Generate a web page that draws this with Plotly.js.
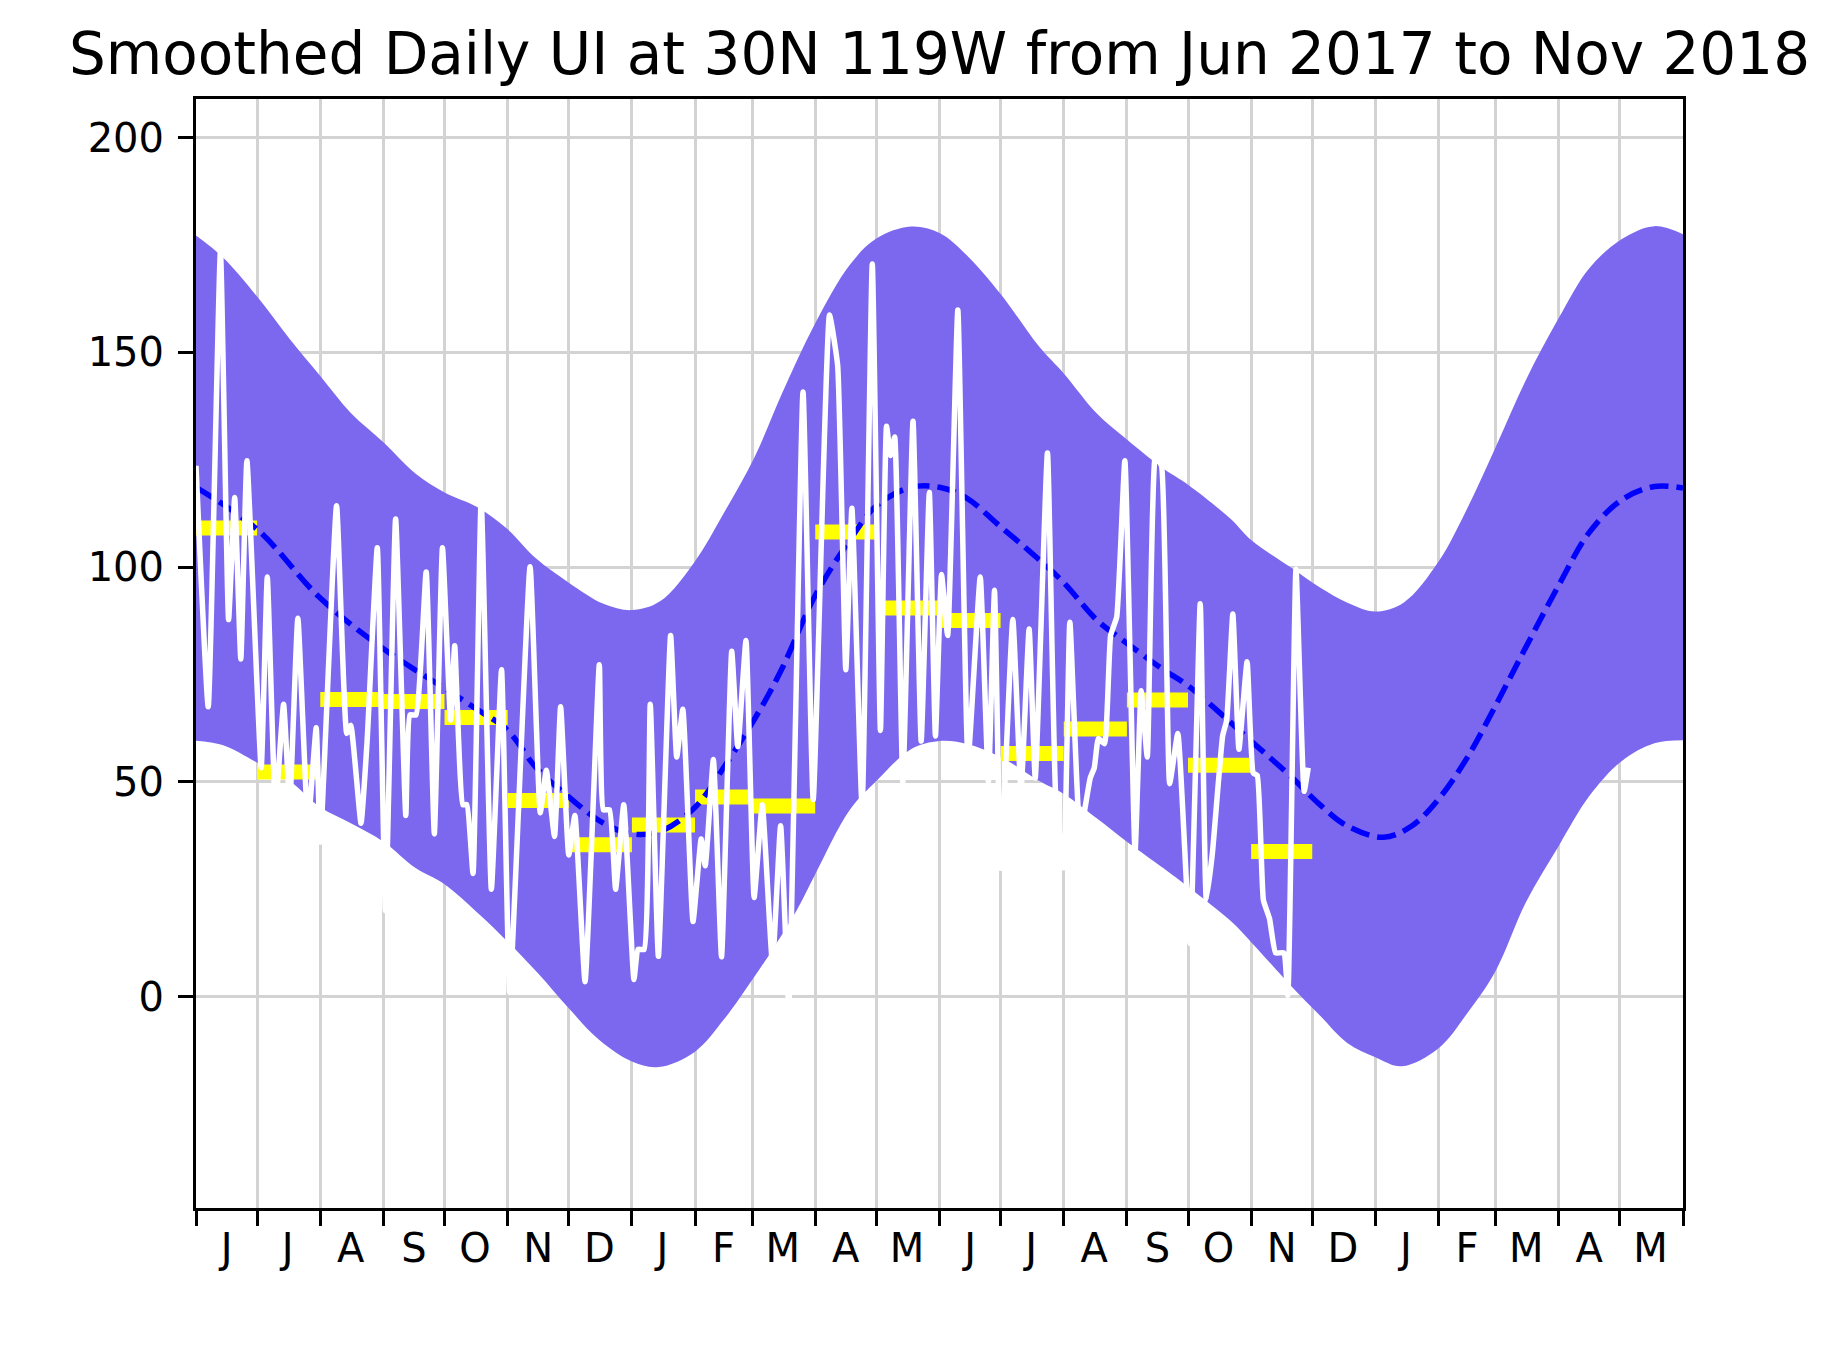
<!DOCTYPE html>
<html>
<head>
<meta charset="utf-8">
<script src="https://cdn.plot.ly/plotly-3.0.1.min.js"></script>
<style>
  html, body { margin: 0; padding: 0; background: #ffffff; }
  #chart { width: 1845px; height: 1357px; }
</style>
</head>
<body>
<div id="chart"></div>
<script>
// day offsets are counted from 1 Jun 2017
const START_UTC = Date.UTC(2017, 5, 1);

const monthStarts = [
    '2017-06-01', '2017-07-01', '2017-08-01', '2017-09-01', '2017-10-01', '2017-11-01',
    '2017-12-01', '2018-01-01', '2018-02-01', '2018-03-01', '2018-04-01', '2018-05-01',
    '2018-06-01', '2018-07-01', '2018-08-01', '2018-09-01', '2018-10-01', '2018-11-01',
    '2018-12-01', '2019-01-01', '2019-02-01', '2019-03-01', '2019-04-01', '2019-05-01',
    '2019-06-01',
];
const monthLetters = [
    'J', 'J', 'A', 'S', 'O', 'N', 'D', 'J', 'F', 'M', 'A', 'M',
    'J', 'J', 'A', 'S', 'O', 'N', 'D', 'J', 'F', 'M', 'A', 'M',
];
const yTicks = [0, 50, 100, 150, 200];

// monthly mean UI, Jun 2017 .. Nov 2018
const monthlyUI = [
    109.1, 52.3, 69.2, 68.7, 65.0, 45.7, 35.4, 40.0, 46.5,
    44.4, 108.2, 90.5, 87.6, 56.6, 62.3, 69.1, 53.9, 33.8,
];

// climatological band
const upperDay = [
    0, 13, 30, 46, 61, 76, 92, 108, 122, 138, 153, 167, 183, 200, 214, 228, 245, 259, 274,
    288, 304, 321, 334, 351, 365, 378, 395, 414, 426, 442, 457, 475, 487, 508, 518, 537,
    552, 565, 579, 593, 610, 624, 638, 653, 669, 684, 700, 716, 730,
];
const upperUI = [
    177.2, 172.2, 163.0, 153.1, 144.5, 135.9, 129.1, 121.7, 117.4, 114.0, 108.8, 102.0, 96.4, 91.5, 90.0, 92.1, 101.4, 112.5, 125.4,
    140.8, 156.8, 170.4, 176.5, 179.3, 177.8, 172.8, 163.6, 151.3, 145.1, 135.9, 129.7, 122.9, 119.2, 111.2, 106.3, 100.1,
    95.2, 91.8, 89.7, 91.8, 101.3, 113.6, 127.9, 143.7, 158.0, 169.6, 176.4, 179.4, 177.5,
];
const lowerDay = [
    0, 13, 30, 46, 61, 76, 92, 108, 122, 139, 153, 168, 183, 198, 214, 227, 245, 259, 273, 281,
    295, 304, 321, 334, 351, 365, 378, 395, 414, 426, 442, 457, 475, 487, 508, 518, 537,
    552, 565, 579, 592, 610, 624, 638, 653, 669, 684, 700, 716, 730,
];
const lowerUI = [
    59.6, 58.6, 54.5, 50.2, 44.1, 40.4, 36.1, 29.9, 26.2, 19.2, 12.8, 5.4, -2.7, -10.1, -15.1, -16.4, -12.8, -5.4, 3.9, 9.5,
    20.2, 28.5, 43.5, 50.2, 57.6, 59.5, 58.9, 55.8, 50.2, 47.2, 41.6, 36.1, 29.9, 25.6, 17.6, 12.7, 2.8,
    -4.5, -10.7, -14.1, -16.2, -12.0, -3.9, 6.0, 22.1, 35.1, 46.7, 54.9, 59.0, 59.7,
];
const meanDay = [
    0, 30, 61, 92, 122, 136, 153, 167, 183, 200, 214, 228, 245, 259, 277, 288, 304, 321, 334,
    351, 365, 378, 395, 409, 426, 442, 457, 475, 487, 508, 518, 537, 552, 565, 583, 597,
    610, 624, 638, 653, 669, 684, 700, 716, 730,
];
const meanUI = [
    118.6, 108.8, 92.8, 81.0, 71.8, 67.5, 62.0, 53.3, 46.5, 40.4, 37.9, 38.5, 44.1, 53.3, 66.9, 76.7, 93.4, 106.3, 114.3,
    118.6, 118.6, 116.2, 109.4, 103.8, 96.4, 87.8, 82.3, 76.1, 72.4, 63.8, 59.5, 51.5, 44.6, 39.8, 37.1, 39.8,
    46.0, 55.6, 67.8, 81.5, 95.8, 108.1, 115.7, 118.8, 118.4,
];

// smoothed daily UI (turning points)
const uiDay = [
    0, 6, 12, 16, 19, 22, 25, 32, 35, 39, 43, 46, 50, 55, 59, 61, 69, 74, 76, 81,
    84, 89, 93, 98, 103, 105, 108, 113, 117, 121, 125, 127, 131, 133, 136, 140, 145, 150, 154, 164,
    169, 172, 176, 179, 183, 186, 191, 198, 200, 203, 206, 210, 215, 217, 220, 223, 227, 233, 236, 239,
    244, 248, 250, 254, 258, 263, 266, 270, 274, 278, 283, 287, 291, 298, 303, 311, 315, 319, 322, 327,
    332, 336, 339, 341, 343, 347, 352, 356, 360, 363, 366, 369, 374, 379, 385, 389, 392, 395, 401, 405,
    409, 412, 418, 422, 426, 429, 434, 439, 441, 443, 446, 449, 452, 456, 461, 464, 467, 471, 474, 478,
    482, 488, 493, 496, 499, 504, 506, 509, 512, 516, 519, 521, 524, 527, 530, 534, 536, 540, 544, 546,
];
const uiValue = [
    123.6, 67.5, 173.5, 87.8, 116.2, 78.6, 124.8, 53.3, 97.7, 44.0, 68.1, 45.0, 88.1, 40.0, 62.6, 36.0, 114.3, 61.3, 63.2, 40.4,
    59.5, 104.5, 20.0, 111.2, 42.2, 65.6, 65.6, 98.9, 37.9, 104.5, 64.4, 81.7, 44.7, 44.7, 28.7, 116.0, 25.0, 76.1, 1.0, 100.1,
    42.8, 52.7, 37.3, 67.5, 33.0, 42.2, 3.5, 77.3, 43.5, 43.5, 25.0, 44.7, 4.0, 11.0, 11.0, 68.1, 9.4, 84.1, 55.8, 66.9,
    17.5, 36.7, 30.5, 55.2, 9.3, 80.4, 58.2, 82.9, 23.1, 44.7, 7.7, 39.8, -2.0, 140.8, 45.9, 158.7, 147.0, 76.1, 113.7, 44.0,
    170.6, 62.0, 132.8, 126.0, 130.3, 50.0, 134.0, 59.5, 117.4, 60.7, 98.3, 84.1, 159.9, 55.0, 97.7, 50.0, 94.6, 29.9, 87.8, 48.0,
    85.6, 50.9, 126.6, 47.2, 30.0, 87.2, 38.0, 50.9, 53.3, 60.1, 58.9, 84.1, 88.4, 124.8, 33.6, 71.2, 55.8, 126.0, 123.6, 49.6,
    61.3, 12.4, 91.5, 22.5, 33.6, 60.7, 64.4, 89.1, 57.6, 78.0, 52.1, 51.5, 22.5, 18.2, 10.2, 10.2, 0.3, 99.5, 47.8, 53.3,
];

const toDate = (day) => new Date(START_UTC + day * 864e5).toISOString().slice(0, 10);
const toDates = (days) => days.map(toDate);
const midMonth = (i) => {
    const a = Date.parse(monthStarts[i]);
    const b = Date.parse(monthStarts[i + 1]);
    return new Date((a + b) / 2).toISOString().slice(0, 10);
};

function monthlyBars() {
    const x = [];
    const y = [];
    monthlyUI.forEach((value, i) => {
        x.push(monthStarts[i], monthStarts[i + 1], null);
        y.push(value, value, null);
    });
    return { x, y };
}

const bandColor = '#7B68EE';
const gridColor = '#d3d3d3';
const font = 'DejaVu Sans, sans-serif';
const bars = monthlyBars();

const data = [
    {
        x: toDates(lowerDay), y: lowerUI,
        type: 'scatter', mode: 'lines',
        line: { color: bandColor, width: 0, shape: 'spline', smoothing: 1.0 },
        hoverinfo: 'skip', showlegend: false,
    },
    {
        x: toDates(upperDay), y: upperUI,
        type: 'scatter', mode: 'lines',
        fill: 'tonexty', fillcolor: bandColor,
        line: { color: bandColor, width: 0, shape: 'spline', smoothing: 1.0 },
        hoverinfo: 'skip', showlegend: false,
    },
    {
        x: bars.x, y: bars.y,
        type: 'scatter', mode: 'lines',
        line: { color: '#ffff00', width: 15 },
        showlegend: false,
    },
    {
        x: toDates(meanDay), y: meanUI,
        type: 'scatter', mode: 'lines',
        line: { color: '#0000ff', width: 5.5, dash: '19px,8px', shape: 'spline', smoothing: 1.0 },
        showlegend: false,
    },
    {
        x: toDates(uiDay), y: uiValue,
        type: 'scatter', mode: 'lines',
        line: { color: '#ffffff', width: 5.5, shape: 'spline', smoothing: 0.4 },
        showlegend: false,
    },
];

const layout = {
    width: 1845,
    height: 1357,
    paper_bgcolor: '#ffffff',
    plot_bgcolor: '#ffffff',
    margin: { l: 196, r: 162, t: 99, b: 149 },
    font: { family: font, color: '#000000', size: 40 },
    showlegend: false,
    title: {
        text: 'Smoothed Daily UI at 30N 119W from Jun 2017 to Nov 2018',
        font: { family: font, size: 58, color: '#000000' },
        x: 0.5, xref: 'paper', xanchor: 'center',
        y: 1 - 54 / 1357, yref: 'container', yanchor: 'middle',
    },
    xaxis: {
        type: 'date',
        range: [monthStarts[0], monthStarts[monthStarts.length - 1]],
        tickmode: 'array',
        tickvals: monthLetters.map((_, i) => midMonth(i)),
        ticktext: monthLetters,
        ticks: '',
        ticklabelstandoff: 3,
        showgrid: false,
        zeroline: false,
        showline: true, mirror: true, linecolor: '#000000', linewidth: 3,
        tickfont: { family: font, size: 40, color: '#000000' },
        minor: {
            tickmode: 'array',
            tickvals: monthStarts,
            ticks: 'outside', ticklen: 15, tickwidth: 3, tickcolor: '#000000',
            showgrid: true, gridcolor: gridColor, gridwidth: 3,
        },
    },
    yaxis: {
        range: [-49.2, 209.0],
        tickmode: 'array',
        tickvals: yTicks,
        ticktext: yTicks.map(String),
        ticks: 'outside', ticklen: 15, tickwidth: 3, tickcolor: '#000000',
        ticklabelstandoff: 6,
        showgrid: true, gridcolor: gridColor, gridwidth: 3,
        zeroline: false,
        showline: true, mirror: true, linecolor: '#000000', linewidth: 3,
        tickfont: { family: font, size: 40, color: '#000000' },
    },
};

Plotly.newPlot('chart', data, layout, { displayModeBar: false, staticPlot: true });
</script>
</body>
</html>
